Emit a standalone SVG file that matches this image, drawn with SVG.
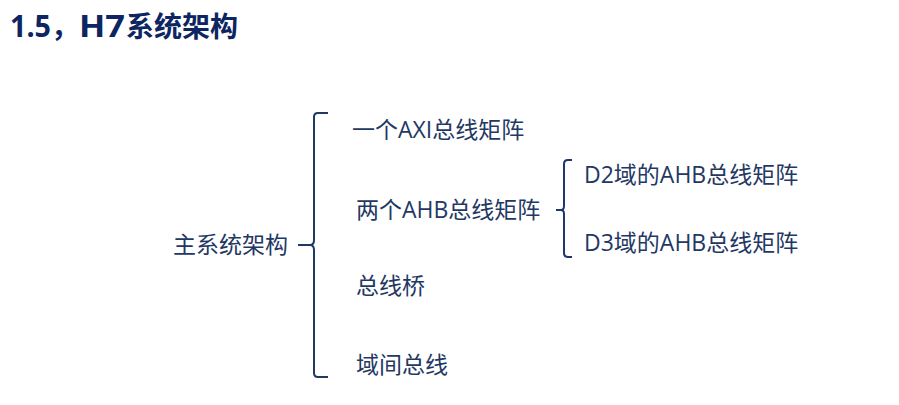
<svg xmlns="http://www.w3.org/2000/svg" width="899" height="405" viewBox="0 0 899 405">
<style>
.t{font-family:"Open Sans","Noto Sans CJK SC",sans-serif;font-size:23px;fill:#1f3864}
.title{font-family:"Open Sans","Noto Sans CJK SC",sans-serif;font-size:28px;font-weight:bold;fill:#0d2560}
.lat{font-size:31px}
.br{fill:none;stroke:#1f3864;stroke-width:2}
</style>
<rect width="899" height="405" fill="#ffffff"/>
<text class="title" y="37"><tspan class="lat" x="10" textLength="41" lengthAdjust="spacingAndGlyphs">1.5</tspan><tspan x="51">，</tspan><tspan class="lat" x="79" textLength="46" lengthAdjust="spacingAndGlyphs">H7</tspan><tspan x="126">系统架构</tspan></text>
<g id="connectors">
<path class="br" d="M328,113 L318,113 Q314,113 314,117 L314,240 Q314,245 310,245 L298,245 M310,245 Q314,245 314,250 L314,373 Q314,377 318,377 L328,377"/>
<path class="br" d="M572,160 L568,160 Q564,160 564,164 L564,206 Q564,210 561,210 L556,210 M561,210 Q564,210 564,214 L564,253 Q564,257 568,257 L572,257"/>
</g>
<g id="root"><text class="t" x="173" y="253">主系统架构</text></g>
<g id="axi"><text class="t" x="352" y="138">一个AXI总线矩阵</text></g>
<g id="ahb"><text class="t" x="356" y="218">两个AHB总线矩阵</text></g>
<g id="bridge"><text class="t" x="356" y="294">总线桥</text></g>
<g id="inter"><text class="t" x="356" y="373">域间总线</text></g>
<g id="d2"><text class="t" x="584" y="183">D2域的AHB总线矩阵</text></g>
<g id="d3"><text class="t" x="584" y="251">D3域的AHB总线矩阵</text></g>
</svg>
